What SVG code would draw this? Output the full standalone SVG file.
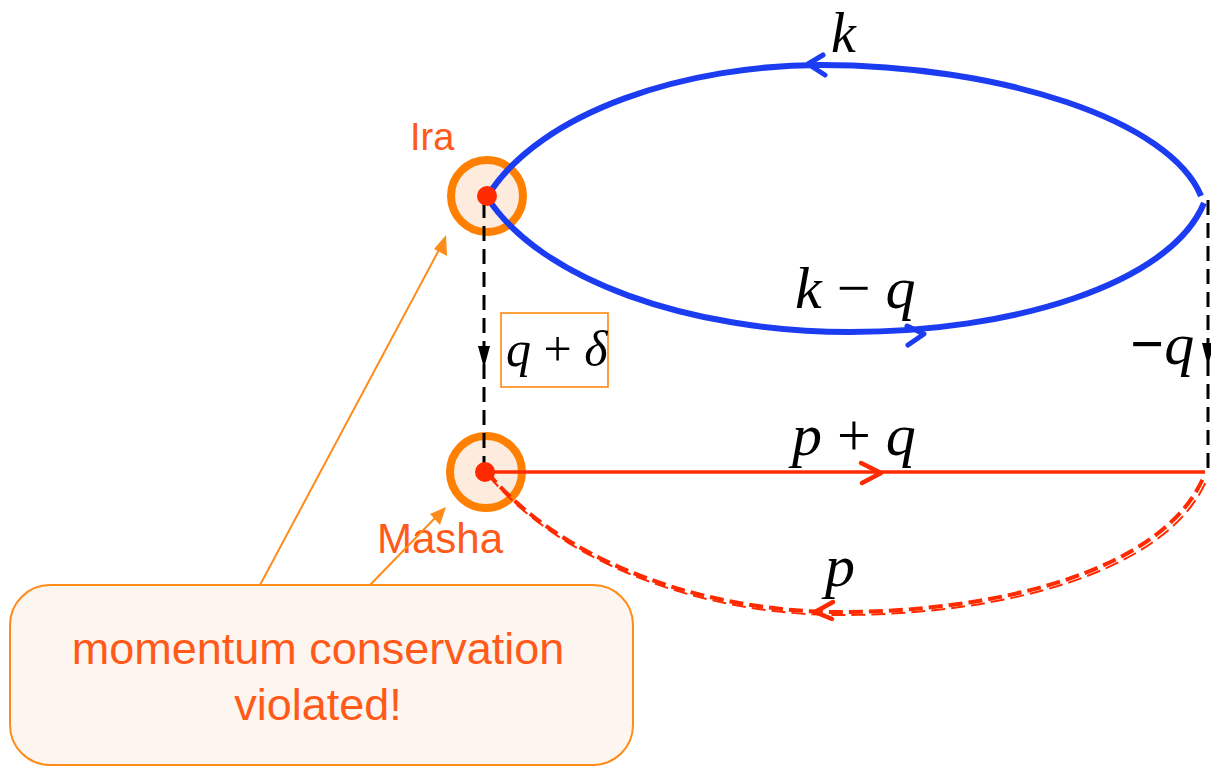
<svg xmlns="http://www.w3.org/2000/svg" width="1211" height="767" viewBox="0 0 1211 767">
<style>
.blue{fill:none;stroke:#1c3cf2;stroke-width:6;stroke-linecap:butt}
.bluearr{fill:none;stroke:#1c3cf2;stroke-width:5;stroke-linecap:round;stroke-linejoin:round}
.red{fill:none;stroke:#ff2a00;stroke-width:3.5}
.redarr{fill:none;stroke:#ff2a00;stroke-width:4.5;stroke-linecap:round;stroke-linejoin:round}
.reddash{fill:none;stroke:#ff2a00;stroke-width:4;stroke-dasharray:14 6}
.bdash{fill:none;stroke:#000;stroke-width:3;stroke-dasharray:15 8}
.barr{fill:#000}
.vtx{fill:#fdebdd;stroke:#ff8000;stroke-width:8}
.dot{fill:#ff2a00}
.call{fill:none;stroke:#ff8c1a;stroke-width:2}
.callhead{fill:#ff8c1a}
.math{font-family:"Liberation Serif",serif;font-style:italic;fill:#000}
.lbl{font-family:"Liberation Sans",Arial,sans-serif;fill:#ff5a1a}
</style>
<g id="ira">
<circle class="vtx" cx="487" cy="196" r="36"/>
<text class="lbl" x="410" y="150" font-size="38">Ira</text>
</g>
<g id="masha">
<circle class="vtx" cx="486" cy="472" r="36"/>
<text class="lbl" x="377" y="553" font-size="42">Masha</text>
</g>
<g id="connectors">
<path class="blue" d="M487,197 C540,110 690,65 820,65 C1000,65 1170,120 1201,196"/>
<path class="blue" d="M487,197 C540,280 690,332 850,332 C1010,332 1170,285 1204,203"/>
<polyline class="bluearr" points="823,55 808,64 825,75"/>
<polyline class="bluearr" points="907,326 924,334 908,345"/>
<line class="red" x1="487" y1="472" x2="1205" y2="472"/>
<polyline class="redarr" points="861,463 881,473 862,483"/>
<path class="reddash" d="M487,472 C560,560 700,612 840,612 C1000,612 1165,570 1204,476"/>
<path class="reddash" d="M489,476 C562,563 702,615 840,615 C1002,615 1168,573 1207,479" style="stroke-width:2"/>
<polyline class="redarr" points="833,602 815,612 832,619"/>
<line class="bdash" x1="484" y1="203" x2="484" y2="470"/>
<polygon class="barr" points="478,346 490,346 484,368"/>
<line class="bdash" x1="1208" y1="200" x2="1208" y2="470"/>
<polygon class="barr" points="1202,343 1214,343 1208,366"/>
<line class="call" x1="260" y1="585" x2="440" y2="248"/>
<polygon class="callhead" points="446,235 447,256 434,249"/>
<line class="call" x1="370" y1="585" x2="436" y2="517"/>
<polygon class="callhead" points="446,507 440,525 430,514"/>
</g>
<g id="dots">
<circle class="dot" cx="487" cy="196" r="10"/>
<circle class="dot" cx="485" cy="472" r="10"/>
</g>
<g id="label-k"><text class="math" x="831" y="52" font-size="56">k</text></g>
<g id="label-kq"><text class="math" x="795" y="308" font-size="60">k <tspan font-style="normal">−</tspan> q</text></g>
<g id="label-pq"><text class="math" x="792" y="455" font-size="60">p <tspan font-style="normal">+</tspan> q</text></g>
<g id="label-p"><text class="math" x="825" y="586" font-size="60">p</text></g>
<g id="label-mq"><text class="math" x="1130" y="364" font-size="60"><tspan font-style="normal" font-weight="bold">−</tspan>q</text></g>
<g id="label-qd">
<rect x="501" y="313" width="107" height="74" fill="#fff" stroke="#ff8000" stroke-width="1.5"/>
<text class="math" x="506" y="366" font-size="50">q <tspan font-style="normal">+</tspan> δ</text>
</g>
<g id="callout">
<rect x="10" y="585" width="623" height="180" rx="40" ry="40" fill="#fdf6f0" stroke="#ff8c1a" stroke-width="2"/>
<text class="lbl" x="318" y="664" font-size="45" text-anchor="middle">momentum conservation</text>
<text class="lbl" x="318" y="720" font-size="45" text-anchor="middle">violated!</text>
</g>
</svg>
